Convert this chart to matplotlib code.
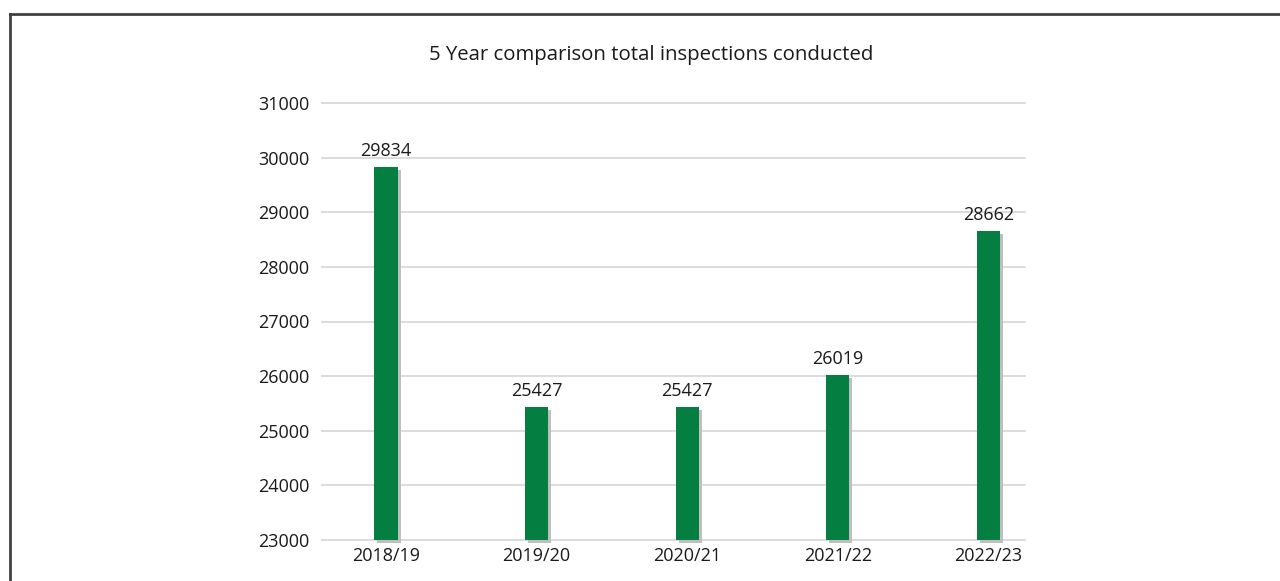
import matplotlib
matplotlib.use("Agg")
import matplotlib.pyplot as plt
import matplotlib.transforms as mtransforms
from matplotlib.lines import Line2D

years = ["2018/19", "2019/20", "2020/21", "2021/22", "2022/23"]
inspections = [29834, 25427, 25427, 26019, 28662]
yticks = [23000, 24000, 25000, 26000, 27000, 28000, 29000, 30000, 31000]

plt.rcParams['font.family'] = ['Open Sans', 'DejaVu Sans']

green = "#047F41"
shadow = "#BFBFBF"
grid = "#D9D9D9"

fig = plt.figure(figsize=(12.8, 5.81), dpi=100)
ax = fig.add_axes([322 / 1280, 1 - 540 / 581, (1025 - 322) / 1280, (540 - 103) / 581])

x = list(range(len(years)))
width = 0.153
base = yticks[0]

# shadow bars, shifted a few pixels right and down
shift = mtransforms.offset_copy(ax.transData, fig=fig, x=3, y=-3, units='dots')
ax.bar(x, [v - base for v in inspections], width, bottom=base, color=shadow,
       transform=shift, clip_on=False, zorder=2)
ax.bar(x, [v - base for v in inspections], width, bottom=base, color=green,
       clip_on=False, zorder=3)

for xi, v in zip(x, inspections):
    ax.annotate(str(v), (xi, v), xytext=(0, 5), textcoords='offset points',
                ha='center', va='bottom', fontsize=13, color='#1a1a1a')

ax.set_ylim(yticks[0], yticks[-1])
ax.set_xlim(-0.425, 4.243)
ax.set_yticks(yticks)
ax.set_yticklabels([str(t) for t in yticks])
ax.set_xticks(x)
ax.set_xticklabels(years)
ax.tick_params(length=0, labelsize=13, colors='#1a1a1a')
ax.tick_params(axis='y', pad=9)
ax.tick_params(axis='x', pad=5)
ax.yaxis.grid(True, color=grid, lw=1.3, zorder=0)
for gl in ax.get_ygridlines():
    gl.set_clip_on(False)
ax.set_axisbelow(True)
for s in ax.spines.values():
    s.set_visible(False)

fig.text(651 / 1280, 1 - 55 / 581, "5 Year comparison total inspections conducted",
         ha='center', va='center', fontsize=14.7, color='#1a1a1a')

# outer frame
fx = 9.5 / 1280
fy = 1 - 13.5 / 581
fig.add_artist(Line2D([fx, fx], [0, fy], transform=fig.transFigure, color='#404040', lw=2))
fig.add_artist(Line2D([fx, 1], [fy, fy], transform=fig.transFigure, color='#404040', lw=2))

fig.savefig("out.png", dpi=100)
